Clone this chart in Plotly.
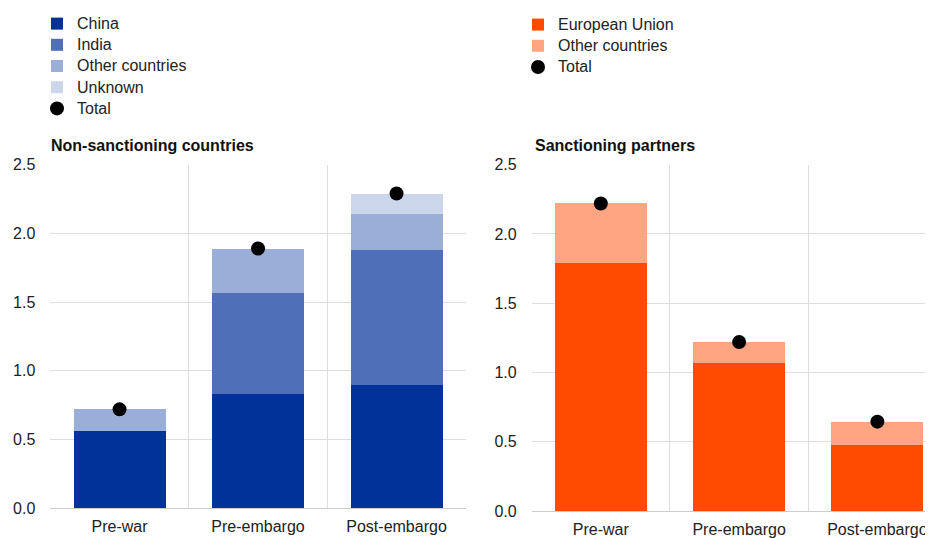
import plotly.graph_objects as go

categories = ["Pre-war", "Pre-embargo", "Post-embargo"]

# Non-sanctioning countries
china = [0.56, 0.83, 0.90]
india = [0.0, 0.74, 0.98]
other_ns = [0.16, 0.32, 0.26]
unknown = [0.0, 0.0, 0.15]
total_ns = [0.72, 1.89, 2.29]

# Sanctioning partners
eu = [1.79, 1.07, 0.48]
other_s = [0.43, 0.15, 0.165]
total_s = [2.22, 1.22, 0.645]

W, H = 933, 538
OFF = 8  # page body margin offset in the screenshot
FONT = "Liberation Sans, Arial, sans-serif"


def px_x(v):
    return (v - OFF) / W


def px_y(v):
    return 1 - (v - OFF) / H


def lab(t):
    return "<span style='font-size:16px'>" + t + "</span>"


fig = go.Figure()


def bar(name, y, color, xa, ya, leg):
    fig.add_trace(go.Bar(x=categories, y=y, name=lab(name),
                         marker=dict(color=color, line=dict(width=0)),
                         xaxis=xa, yaxis=ya, legend=leg, hoverinfo="skip"))


bar("China", china, "#003299", "x", "y", "legend")
bar("India", india, "#4f6fb8", "x", "y", "legend")
bar("Other countries", other_ns, "#9aaed7", "x", "y", "legend")
bar("Unknown", unknown, "#cbd6eb", "x", "y", "legend")
fig.add_trace(go.Scatter(x=categories, y=total_ns, name=lab("Total"), mode="markers",
                         marker=dict(color="black", size=14), xaxis="x", yaxis="y",
                         legend="legend", hoverinfo="skip"))

bar("European Union", eu, "#ff4b00", "x2", "y2", "legend2")
bar("Other countries", other_s, "#ffa582", "x2", "y2", "legend2")
fig.add_trace(go.Scatter(x=categories, y=total_s, name=lab("Total"), mode="markers",
                         marker=dict(color="black", size=14), xaxis="x2", yaxis="y2",
                         legend="legend2", hoverinfo="skip"))

grid = "#dedede"
xcommon = dict(type="category", tickson="boundaries", showgrid=True, gridcolor=grid, gridwidth=1,
               ticks="", showline=False, zeroline=False, automargin=False, ticklabelstandoff=7,
               tickfont=dict(size=16, color="#222", family=FONT))
ycommon = dict(range=[0, 2.5], dtick=0.5, tickformat=".1f", showgrid=True, gridcolor=grid,
               gridwidth=1, zeroline=True, zerolinecolor="#cccccc", zerolinewidth=1,
               showline=False, ticks="", ticklabelstandoff=14, automargin=False,
               tickfont=dict(size=16, color="#222", family=FONT))

legcommon = dict(xanchor="left", yanchor="top", traceorder="normal", bgcolor="rgba(0,0,0,0)",
                 font=dict(size=14, family=FONT, color="#222"), borderwidth=0,
                 itemclick=False, itemdoubleclick=False)

fig.update_layout(
    template="none",
    width=W, height=H,
    margin=dict(l=0, r=0, t=0, b=0, autoexpand=False),
    paper_bgcolor="white", plot_bgcolor="white",
    barmode="stack", bargap=0.335,
    font=dict(family=FONT, size=16, color="#222"),
    xaxis=dict(domain=[px_x(50.3), px_x(465.8)], range=[-0.5, 2.5], anchor="y", **xcommon),
    yaxis=dict(domain=[px_y(508.3), px_y(164.7)], anchor="x", **ycommon),
    xaxis2=dict(domain=[px_x(531.7), 1.0], range=[-0.5, 2.46], anchor="y2", **xcommon),
    yaxis2=dict(domain=[px_y(511.0), px_y(164.7)], anchor="x2", **ycommon),
    legend=dict(x=px_x(37), y=px_y(8), **legcommon),
    legend2=dict(x=px_x(518), y=px_y(9), **legcommon),
    showlegend=True,
    annotations=[
        dict(text="<b>Non-sanctioning countries</b>", x=px_x(49), y=px_y(145), xref="paper", yref="paper",
             xanchor="left", yanchor="middle", showarrow=False,
             font=dict(size=16, family=FONT, color="#111")),
        dict(text="<b>Sanctioning partners</b>", x=px_x(533), y=px_y(145), xref="paper", yref="paper",
             xanchor="left", yanchor="middle", showarrow=False,
             font=dict(size=16, family=FONT, color="#111")),
    ],
)

fig.write_html("out.html")
